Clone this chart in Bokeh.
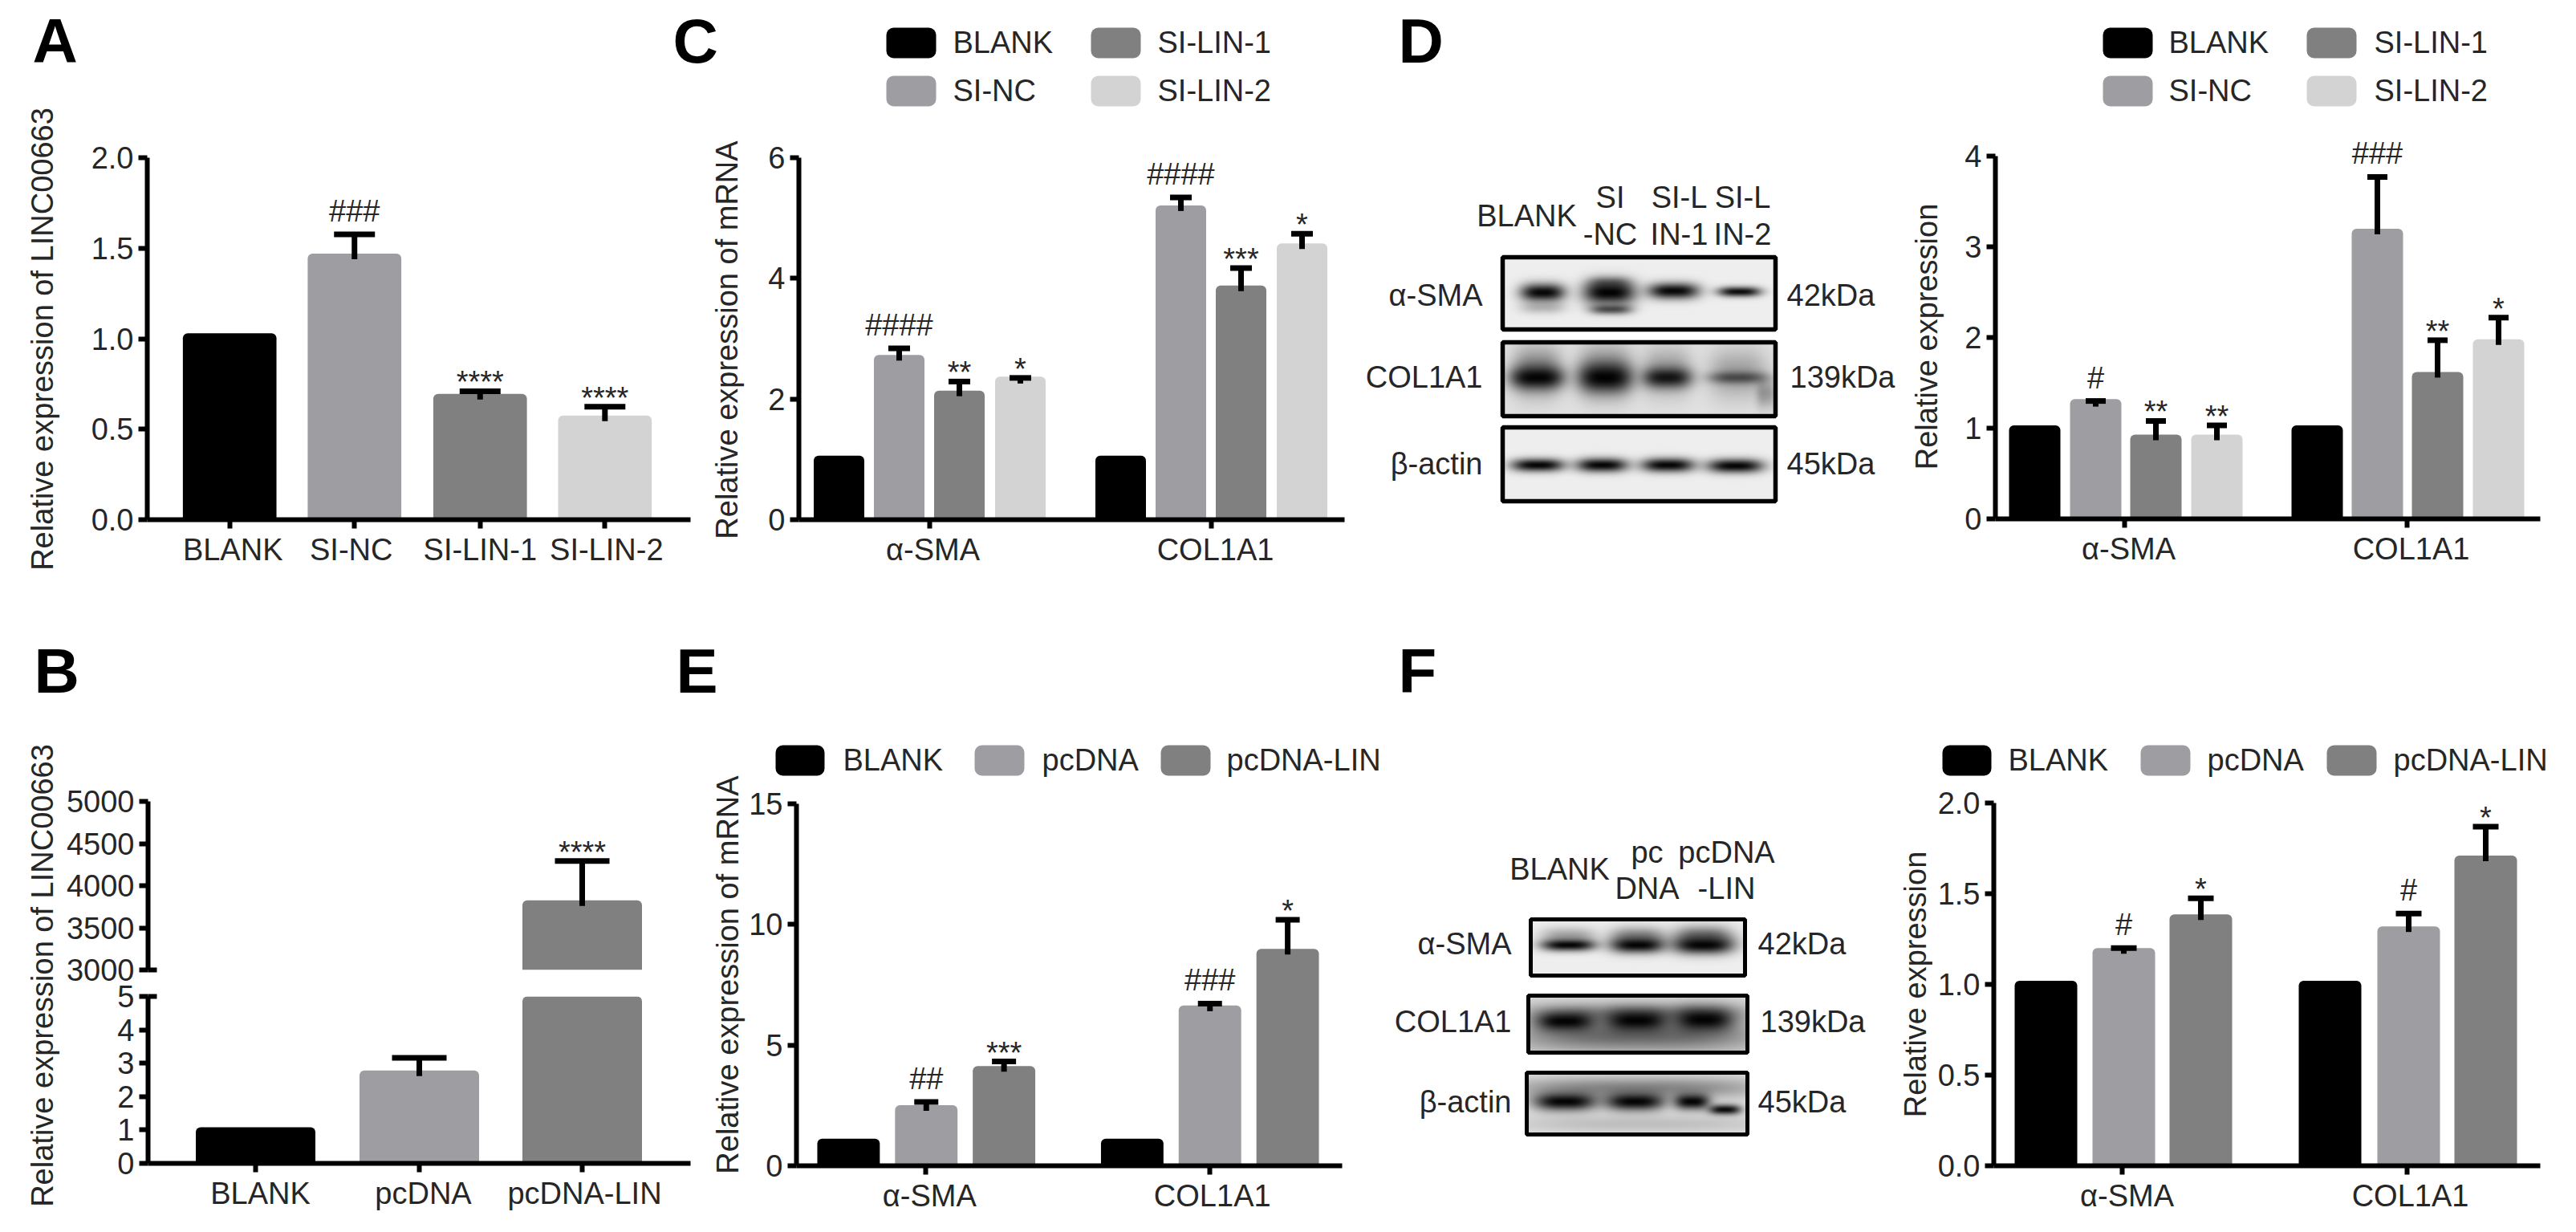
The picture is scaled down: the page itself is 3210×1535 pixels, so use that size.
import math
import numpy as np
from bokeh.core.properties import value
from bokeh.embed import file_html
from bokeh.layouts import column, row
from bokeh.models import (BoxAnnotation, ColumnDataSource, FixedTicker, Label, LabelSet,
                          LinearAxis, LinearColorMapper, Range1d, TeeHead, Whisker)
from bokeh.palettes import Greys256
from bokeh.plotting import figure
from bokeh.resources import INLINE

# ------------------------------ data ------------------------------
COLORS = {"BLANK": "#000000", "SI-NC": "#9e9ea2", "SI-LIN-1": "#808080", "SI-LIN-2": "#d3d3d3",
          "pcDNA": "#9e9ea2", "pcDNA-LIN": "#808080"}

SI_GROUPS = ["BLANK", "SI-NC", "SI-LIN-1", "SI-LIN-2"]
PC_GROUPS = ["BLANK", "pcDNA", "pcDNA-LIN"]
GENES = ["α-SMA", "COL1A1"]

A_VALUES = [1.03, 1.47, 0.695, 0.575]
A_UPPER = [None, 1.576, 0.71, 0.624]
A_MARKS = ["", "###", "****", "****"]
A_YTICKS = [0.0, 0.5, 1.0, 1.5, 2.0]
A_YLABELS = ["0.0", "0.5", "1.0", "1.5", "2.0"]

B_VALUES = [1.08, 2.78, 3826.0]
B_UPPER = [None, 3.16, 4294.0]
B_MARKS = ["", "", "****"]
B_LOW_TICKS = [0, 1, 2, 3, 4, 5]
B_HIGH_TICKS = [3000, 3500, 4000, 4500, 5000]

C_ASMA = [1.06, 2.73, 2.14, 2.37]
C_ASMA_UPPER = [None, 2.84, 2.29, 2.35]
C_ASMA_MARKS = ["", "####", "**", "*"]
C_COL = [1.06, 5.21, 3.88, 4.58]
C_COL_UPPER = [None, 5.34, 4.17, 4.74]
C_COL_MARKS = ["", "####", "***", "*"]
C_YTICKS = [0, 2, 4, 6]

D_ASMA = [1.03, 1.32, 0.93, 0.93]
D_ASMA_UPPER = [None, 1.30, 1.08, 1.03]
D_ASMA_MARKS = ["", "#", "**", "**"]
D_COL = [1.03, 3.2, 1.62, 1.98]
D_COL_UPPER = [None, 3.77, 1.97, 2.22]
D_COL_MARKS = ["", "###", "**", "*"]
D_YTICKS = [0, 1, 2, 3, 4]

E_ASMA = [1.12, 2.51, 4.13]
E_ASMA_UPPER = [None, 2.64, 4.32]
E_ASMA_MARKS = ["", "##", "***"]
E_COL = [1.12, 6.64, 8.99]
E_COL_UPPER = [None, 6.72, 10.19]
E_COL_MARKS = ["", "###", "*"]
E_YTICKS = [0, 5, 10, 15]

F_ASMA = [1.02, 1.20, 1.386]
F_ASMA_UPPER = [None, 1.20, 1.475]
F_ASMA_MARKS = ["", "#", "*"]
F_COL = [1.02, 1.32, 1.71]
F_COL_UPPER = [None, 1.39, 1.87]
F_COL_MARKS = ["", "#", "*"]
F_YTICKS = [0.0, 0.5, 1.0, 1.5, 2.0]
F_YLABELS = ["0.0", "0.5", "1.0", "1.5", "2.0"]

# ------------------------------ style ------------------------------
FONT = "Liberation Sans"
SIZE = "38px"
LETTER = "78px"
INK = "#262626"
AXW = 6
BOX = {}


def new_fig(box, frame=None, y_range=(0, 1)):
    L, T, R, B = box
    fl, ft, fr, fb = frame or box
    p = figure(width=R - L, height=B - T,
               x_range=Range1d(fl, fr), y_range=Range1d(*y_range),
               x_axis_type=None, y_axis_type=None,
               min_border_left=fl - L, min_border_right=R - fr,
               min_border_top=ft - T, min_border_bottom=B - fb,
               outline_line_color=None, toolbar_location=None, tools="",
               output_backend="svg")
    BOX[id(p)] = box
    return p


def text(p, x, y, s, size=SIZE, bold=False, align="left", baseline="middle", angle=0, color=INK):
    L, T, _, _ = BOX[id(p)]
    p.add_layout(Label(x=x - L, y=y - T, x_units="canvas", y_units="canvas", text=s,
                       text_font=FONT, text_font_size=size, text_color=color,
                       text_font_style="bold" if bold else "normal",
                       text_align=align, text_baseline=baseline, angle=angle))


def letter(p, x, y, s):
    text(p, x, y, s, size=LETTER, bold=True, baseline="middle", color="black")


def x_axis(p, tick_xs, label_xs, labels):
    ax = LinearAxis(ticker=FixedTicker(ticks=label_xs, minor_ticks=tick_xs),
                    major_label_overrides=dict(zip(label_xs, labels)),
                    axis_line_color="black", axis_line_width=AXW,
                    major_tick_line_color=None, major_tick_out=11, major_tick_in=0,
                    minor_tick_line_color="black", minor_tick_line_width=AXW,
                    minor_tick_out=11, minor_tick_in=0,
                    major_label_standoff=5,
                    major_label_text_font=FONT, major_label_text_font_size=SIZE,
                    major_label_text_color=INK)
    p.add_layout(ax, "below")


def y_axis(p, ticks, labels, break_tick=None, bounds=None):
    ax = LinearAxis(ticker=FixedTicker(ticks=ticks, minor_ticks=[break_tick] if break_tick is not None else []),
                    major_label_overrides=dict(zip(ticks, labels)),
                    axis_line_color="black", axis_line_width=AXW,
                    major_tick_line_color="black", major_tick_line_width=AXW,
                    major_tick_out=11, major_tick_in=0,
                    minor_tick_line_color="black", minor_tick_line_width=AXW,
                    minor_tick_out=0, minor_tick_in=11,
                    major_label_standoff=6,
                    major_label_text_font=FONT, major_label_text_font_size=SIZE,
                    major_label_text_color=INK)
    if bounds:
        ax.bounds = bounds
    p.add_layout(ax, "left")


def bars(p, xs, tops, names, width, bottom=0, radius=6):
    src = ColumnDataSource(dict(x=xs, top=tops, bottom=[bottom] * len(xs),
                                color=[COLORS[n] for n in names]))
    p.vbar(x="x", top="top", bottom="bottom", width=width, fill_color="color", line_color=None,
           source=src, border_radius=(radius, radius, 0, 0))


def errors(p, xs, values, uppers, cap, px_per_unit):
    keep = [i for i, u in enumerate(uppers) if u is not None]
    src = ColumnDataSource(dict(base=[xs[i] for i in keep],
                                upper=[uppers[i] for i in keep],
                                lower=[min(values[i], uppers[i]) - 7 / px_per_unit for i in keep]))
    p.add_layout(Whisker(base="base", upper="upper", lower="lower", source=src, dimension="height",
                         line_color="black", line_width=7, level="annotation",
                         upper_head=TeeHead(size=cap, line_color="black", line_width=7),
                         lower_head=None))


def marks(p, xs, uppers, strings):
    keep = [i for i, s in enumerate(strings) if s]
    src = ColumnDataSource(dict(x=[xs[i] for i in keep], y=[uppers[i] for i in keep],
                                text=[strings[i] for i in keep],
                                dy=[16 if "#" in strings[i] else -2 for i in keep]))
    p.add_layout(LabelSet(x="x", y="y", text="text", y_offset="dy", source=src, text_font=value(FONT),
                          text_font_size=SIZE, text_color=INK, text_align="center",
                          text_baseline="alphabetic"))


def swatch(p, left, top, right, bottom, color):
    L, T, _, _ = BOX[id(p)]
    p.add_layout(BoxAnnotation(left=left - L, right=right - L, top=top - T, bottom=bottom - T,
                               left_units="canvas", right_units="canvas",
                               top_units="canvas", bottom_units="canvas",
                               fill_color=color, fill_alpha=1, line_color=None,
                               border_radius=9, level="annotation"))


def legend(p, entries):
    for (name, sx0, sx1, sy0, sy1, tx) in entries:
        swatch(p, sx0, sy0, sx1, sy1, COLORS[name])
        text(p, tx, (sy0 + sy1) / 2 - 1, name)


def ylabel(box, s, x, y):
    p = new_fig(box)
    text(p, x, y, s, align="center", baseline="middle", angle=math.pi / 2)
    return p


# ---- top strips holding the panel letters and legends
STRIP_0 = new_fig((0, 0, 110, 118))
letter(STRIP_0, 40, 50, "A")
STRIP_1 = new_fig((110, 0, 3202, 140))
letter(STRIP_1, 838, 50, "C")
letter(STRIP_1, 1742, 50, "D")
legend(STRIP_1, [("BLANK", 1104, 1166, 34, 72, 1187), ("SI-LIN-1", 1359, 1421, 34, 72, 1442),
                 ("SI-NC", 1104, 1166, 94, 132, 1187), ("SI-LIN-2", 1359, 1421, 94, 132, 1442)])
legend(STRIP_1, [("BLANK", 2620, 2682, 34, 72, 2702), ("SI-LIN-1", 2874, 2936, 34, 72, 2958),
                 ("SI-NC", 2620, 2682, 94, 132, 2702), ("SI-LIN-2", 2874, 2936, 94, 132, 2958)])
STRIP_2 = new_fig((0, 770, 3202, 900))
letter(STRIP_2, 42, 835, "B")
letter(STRIP_2, 842, 835, "E")
letter(STRIP_2, 1742, 835, "F")

# ---- Panel A
A_SIDE = ylabel((0, 118, 110, 770), "Relative expression of LINC00663", 52, 422)
A = new_fig((110, 140, 870, 770), (181, 196, 860, 647), (0, 2.0))
A_X = [284, 440, 597, 753]
bars(A, A_X, A_VALUES, SI_GROUPS, 117)
errors(A, A_X, A_VALUES, A_UPPER, 51, 225.5)
marks(A, A_X, A_UPPER, A_MARKS)
x_axis(A, A_X, [288, 436, 597, 755], SI_GROUPS)
y_axis(A, A_YTICKS, A_YLABELS)

# ---- Panel C
C_SIDE = ylabel((870, 140, 935, 770), "Relative expression of mRNA", 905, 423)
C = new_fig((935, 140, 1690, 770), (995, 196, 1675, 647), (0, 6))
CX1 = [1045, 1120, 1195, 1271]
CX2 = [1396, 1471, 1546, 1622]
for xs, v, u, m in ((CX1, C_ASMA, C_ASMA_UPPER, C_ASMA_MARKS), (CX2, C_COL, C_COL_UPPER, C_COL_MARKS)):
    bars(C, xs, v, SI_GROUPS, 63)
    errors(C, xs, v, u, 27, 75.2)
    marks(C, xs, u, m)
x_axis(C, [1158, 1509], [1162, 1514], GENES)
y_axis(C, C_YTICKS, [str(t) for t in C_YTICKS])

# ---- Panel D chart (frame runs above the axis so the marks are not cut)
D_SIDE = ylabel((2375, 140, 2425, 770), "Relative expression", 2400, 419)
D_PPU = 113
D = new_fig((2425, 140, 3202, 770), (2486, 160, 3165, 646), (0, (646 - 160) / D_PPU))
DX1 = [2535, 2611, 2686, 2762]
DX2 = [2887, 2962, 3037, 3113]
for xs, v, u, m in ((DX1, D_ASMA, D_ASMA_UPPER, D_ASMA_MARKS), (DX2, D_COL, D_COL_UPPER, D_COL_MARKS)):
    bars(D, xs, v, SI_GROUPS, 64)
    errors(D, xs, v, u, 25, D_PPU)
    marks(D, xs, u, m)
x_axis(D, [2647, 2999], [2652, 3004], GENES)
y_axis(D, D_YTICKS, [str(t) for t in D_YTICKS], bounds=(D_YTICKS[0], D_YTICKS[-1]))

# ---- Panel B: broken axis, two stacked frames that overlap slightly around the gap
low_ppu = 41.6
high_ppu = 0.105
BX = [318, 522, 725]
B_LABEL_X = [324, 527, 728]
B_OVERLAP = 15

B_SIDE = ylabel((0, 900, 78, 1527), "Relative expression of LINC00663", 52, 1215)

B_HI = new_fig((78, 900, 872, 1232), (184, 998, 860, 1208), (B_HIGH_TICKS[0], B_HIGH_TICKS[-1]))
bars(B_HI, BX[2:], B_VALUES[2:], PC_GROUPS[2:], 149, bottom=B_HIGH_TICKS[0])
errors(B_HI, BX[2:], B_VALUES[2:], B_UPPER[2:], 68, high_ppu)
marks(B_HI, BX[2:], B_UPPER[2:], B_MARKS[2:])
y_axis(B_HI, B_HIGH_TICKS, [str(t) for t in B_HIGH_TICKS], break_tick=B_HIGH_TICKS[0])

B_LO = new_fig((78, 1232 - B_OVERLAP, 872, 1527), (184, 1241, 860, 1449), (B_LOW_TICKS[0], B_LOW_TICKS[-1]))
B_LO.margin = (-B_OVERLAP, 0, 0, 0)
B_LO.border_fill_color = None
B_LO.background_fill_color = None
bars(B_LO, BX, B_VALUES, PC_GROUPS, 149)
errors(B_LO, BX[:2], B_VALUES[:2], B_UPPER[:2], 68, low_ppu)
x_axis(B_LO, BX, B_LABEL_X, PC_GROUPS)
y_axis(B_LO, B_LOW_TICKS, [str(t) for t in B_LOW_TICKS], break_tick=B_LOW_TICKS[-1])

# ---- Panel E
E_SIDE = ylabel((872, 900, 930, 1527), "Relative expression of mRNA", 906, 1214)
E_LEG = new_fig((930, 900, 1735, 974))
legend(E_LEG, [("BLANK", 966, 1027, 928, 966, 1050), ("pcDNA", 1214, 1276, 928, 966, 1298),
               ("pcDNA-LIN", 1446, 1508, 928, 966, 1528)])
E = new_fig((930, 974, 1735, 1527), (991, 1001, 1672, 1452), (0, 15))
EX1 = [1056, 1153, 1250]
EX2 = [1410, 1507, 1604]
for xs, v, u, m in ((EX1, E_ASMA, E_ASMA_UPPER, E_ASMA_MARKS), (EX2, E_COL, E_COL_UPPER, E_COL_MARKS)):
    bars(E, xs, v, PC_GROUPS, 78)
    errors(E, xs, v, u, 30, 30)
    marks(E, xs, u, m)
x_axis(E, [1152, 1507], [1157, 1510], GENES)
y_axis(E, E_YTICKS, [str(t) for t in E_YTICKS])

# ---- Panel F chart
F_SIDE = ylabel((2365, 900, 2408, 1527), "Relative expression", 2386, 1226)
F_LEG = new_fig((2408, 900, 3202, 974))
legend(F_LEG, [("BLANK", 2420, 2481, 928, 966, 2502), ("pcDNA", 2667, 2729, 928, 966, 2750),
               ("pcDNA-LIN", 2899, 2961, 928, 966, 2982)])
F = new_fig((2408, 974, 3202, 1527), (2484, 1000, 3165, 1452), (0, 2.0))
FX1 = [2549, 2646, 2742]
FX2 = [2903, 3001, 3097]
for xs, v, u, m in ((FX1, F_ASMA, F_ASMA_UPPER, F_ASMA_MARKS), (FX2, F_COL, F_COL_UPPER, F_COL_MARKS)):
    bars(F, xs, v, PC_GROUPS, 78)
    errors(F, xs, v, u, 32, 226)
    marks(F, xs, u, m)
x_axis(F, [2644, 2999], [2650, 3003], GENES)
y_axis(F, F_YTICKS, F_YLABELS)

# ---- Western blots: drawn as images from lists of bands
MAPPER = LinearColorMapper(palette=Greys256, low=0, high=255)


def blot_fig(box):
    L, T, R, B = box
    p = figure(width=R - L, height=B - T, x_range=Range1d(L, R), y_range=Range1d(-B, -T),
               x_axis_type=None, y_axis_type=None, min_border=0,
               outline_line_color=None, toolbar_location=None, tools="", output_backend="svg")
    BOX[id(p)] = box
    return p


def blot(p, rect, bands, bg=238, lw=5.5):
    x0, y0, x1, y1 = rect
    w, h = x1 - x0, y1 - y0
    xx, yy = np.meshgrid(np.arange(x0, x1) + 0.5, np.arange(y1, y0, -1) - 0.5)
    img = np.full(xx.shape, float(bg))
    for (cx, cy, hw, hh, dark) in bands:
        img *= 1 - dark * np.exp(-np.abs((xx - cx) / hw) ** 3 - ((yy - cy) / (1.25 * hh)) ** 2)
    p.image(image=[img], x=x0, y=-y1, dw=w, dh=h, color_mapper=MAPPER)
    p.quad(left=[x0], right=[x1], top=[-y0], bottom=[-y1], fill_color=None, line_color="black", line_width=lw)


D_SMA_BANDS = [(1922, 364, 28, 9, .97), (2005, 364, 33, 12, .99), (2085, 362, 32, 8, .97), (2167, 363, 27, 5, .95),
               (1922, 383, 28, 6, .22), (2007, 385, 26, 5, .65), (2005, 352, 25, 6, .4)]
D_COL_BANDS = [(1915, 470, 33, 11, .97), (2000, 470, 33, 14, .99), (2077, 470, 30, 10, .88), (2165, 470, 36, 6, .55),
               (1915, 462, 30, 24, .45), (2000, 462, 33, 26, .4), (2077, 462, 30, 24, .3), (2165, 465, 36, 24, .3),
               (2200, 490, 12, 14, .3)]
D_ACT_BANDS = [(1916, 579, 33, 6.5, .98), (1996, 579, 32, 7, .98), (2078, 579, 33, 7, .98), (2162, 580, 35, 7, .98)]
F_SMA_BANDS = [(1954, 1177, 34, 6, .98), (2040, 1177, 34, 8, .98), (2122, 1177, 38, 9, .98),
               (1954, 1165, 34, 8, .3), (2040, 1165, 34, 9, .4), (2122, 1165, 36, 10, .5)]
F_COL_BANDS = [(1950, 1272, 36, 10, .98), (2039, 1271, 38, 11, .98), (2123, 1270, 36, 12, .98),
               (2040, 1290, 150, 16, .5), (2040, 1262, 150, 10, .35)]
F_ACT_BANDS = [(1950, 1372, 39, 9, .98), (2037, 1372, 37, 9, .98), (2108, 1372, 22, 8, .98), (2149, 1382, 20, 5, .95),
               (2040, 1355, 160, 11, .4), (2040, 1400, 160, 9, .15)]

DB = blot_fig((1690, 140, 2375, 770))
blot(DB, (1872, 320, 2212, 410), D_SMA_BANDS)
blot(DB, (1872, 426, 2212, 518), D_COL_BANDS, bg=225)
blot(DB, (1872, 532, 2212, 624), D_ACT_BANDS)
text(DB, 1902, 268, "BLANK", align="center")
for (cx, top, bottom) in ((2006, "SI", "-NC"), (2092, "SI-L", "IN-1"), (2171, "SI-L", "IN-2")):
    text(DB, cx, 245, top, align="center")
    text(DB, cx, 291, bottom, align="center")
for (s, y, k, kx) in (("α-SMA", 367, "42kDa", 2226), ("COL1A1", 469, "139kDa", 2230), ("β-actin", 577, "45kDa", 2226)):
    text(DB, 1847, y, s, align="right")
    text(DB, kx, y, k)

FB = blot_fig((1735, 900, 2365, 1527))
blot(FB, (1907, 1145, 2174, 1215), F_SMA_BANDS, lw=5)
blot(FB, (1904, 1240, 2177, 1311), F_COL_BANDS, bg=215, lw=5)
blot(FB, (1902, 1336, 2177, 1413), F_ACT_BANDS, bg=225, lw=5)
text(FB, 1943, 1082, "BLANK", align="center")
for (cx, top, bottom) in ((2052, "pc", "DNA"), (2151, "pcDNA", "-LIN")):
    text(FB, cx, 1061, top, align="center")
    text(FB, cx, 1106, bottom, align="center")
for (s, y, k, kx) in (("α-SMA", 1175, "42kDa", 2190), ("COL1A1", 1272, "139kDa", 2193), ("β-actin", 1372, "45kDa", 2190)):
    text(FB, 1883, y, s, align="right")
    text(FB, kx, y, k)


def solo(*children):
    return column(*children, spacing=0)


row_1 = row(
    solo(solo(STRIP_0), solo(A_SIDE)),
    solo(solo(STRIP_1), row(solo(A), solo(C_SIDE), solo(C), solo(DB), solo(D_SIDE), solo(D), spacing=0)),
    spacing=0,
)
row_2 = solo(
    solo(STRIP_2),
    row(solo(B_SIDE), solo(B_HI, B_LO), solo(E_SIDE), solo(solo(E_LEG), solo(E)), solo(FB), solo(F_SIDE),
        solo(solo(F_LEG), solo(F)), spacing=0),
)
layout = column(row_1, row_2, spacing=0)
open("out.html", "w").write(file_html(layout, INLINE))
